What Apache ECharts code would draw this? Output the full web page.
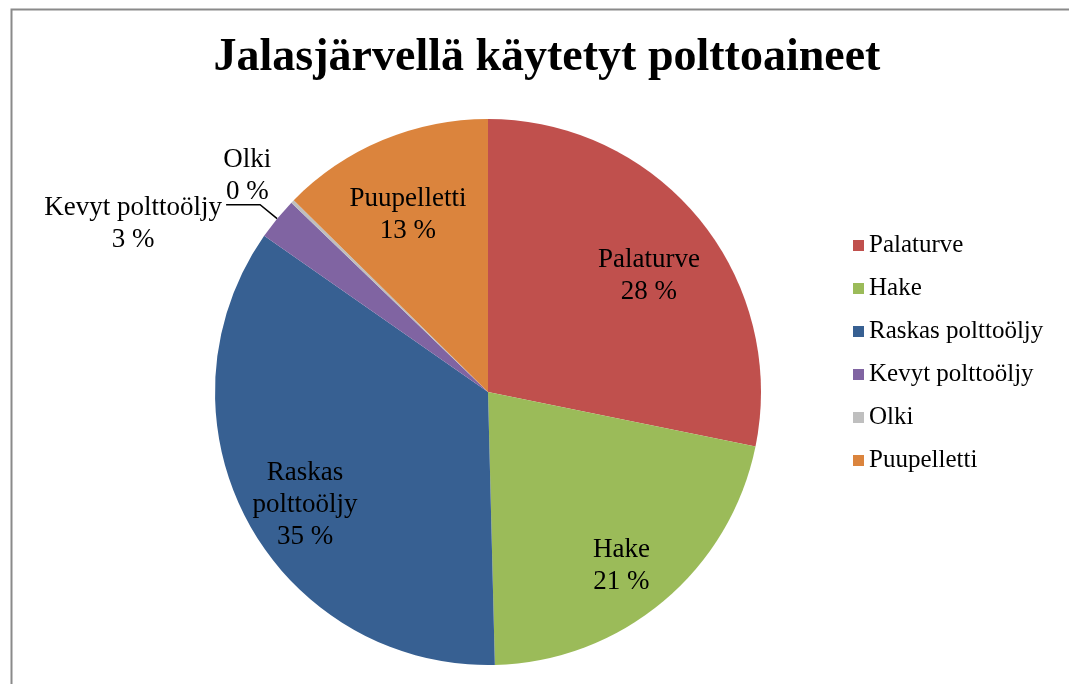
<!DOCTYPE html>
<html>
<head>
<meta charset="utf-8">
<title>Jalasjärvellä käytetyt polttoaineet</title>
<script src="https://cdn.jsdelivr.net/npm/echarts@6/dist/echarts.min.js"></script>
<style>
  html, body { margin: 0; padding: 0; background: #fff; }
  #chart { width: 1069px; height: 684px; }
</style>
</head>
<body>
<div id="chart"></div>
<script>
  // polttoaineet ja osuudet (%)
  var fuelNames = ['Palaturve', 'Hake', 'Raskas polttoöljy', 'Kevyt polttoöljy', 'Olki', 'Puupelletti']
  var fuelShares = [28.2, 21.4, 35.1, 2.5, 0.2, 12.6]
  var fuelColors = ['#C0504D', '#9BBB59', '#376092', '#8064A2', '#BFBFBF', '#DB843D']
  // pienet siivut saavat tekstin ulkopuolelle
  var outsideNames = ['Kevyt polttoöljy', 'Olki']

  var serif = '"Liberation Serif", "Times New Roman", serif'
  var R = 273

  var myChart = echarts.init(document.getElementById('chart'))

  var mainData = fuelNames.map(function (name, i) {
    var item = { name: name, value: fuelShares[i], itemStyle: { color: fuelColors[i] } }
    if (name === 'Olki') {
      item.label = { show: true, padding: [0, 0, 18, 0] }
      item.labelLine = { show: true, length: 24, length2: 0, lineStyle: { color: 'transparent' } }
    } else if (name === 'Kevyt polttoöljy') {
      item.label = { show: true, padding: [38, 0, 0, 0] }
      item.labelLine = { show: true, length: 22, length2: 34 }
    }
    return item
  })

  var labelData = fuelNames.map(function (name, i) {
    return {
      name: name,
      value: fuelShares[i],
      label: { show: outsideNames.indexOf(name) < 0 }
    }
  })

  var option = {
    animation: false,
    backgroundColor: '#ffffff',
    title: {
      text: 'Jalasjärvellä käytetyt polttoaineet',
      left: 542,
      textAlign: 'center',
      top: 30,
      textStyle: {
        fontFamily: serif,
        fontSize: 46,
        fontWeight: 'bold',
        color: '#000'
      }
    },
    legend: {
      orient: 'vertical',
      left: 848,
      top: 228,
      icon: 'rect',
      itemWidth: 11,
      itemHeight: 11,
      itemGap: 18,
      selectedMode: false,
      data: fuelNames,
      textStyle: {
        fontFamily: serif,
        fontSize: 25,
        lineHeight: 22,
        color: '#000'
      }
    },
    graphic: [{
      type: 'rect',
      left: 9,
      top: 7,
      shape: { width: 1100, height: 720 },
      style: { fill: 'none', stroke: '#8a8a8a', lineWidth: 2 },
      silent: true
    }],
    series: [{
      type: 'pie',
      center: [488, 392],
      radius: [0, R],
      startAngle: 90,
      clockwise: true,
      percentPrecision: 0,
      avoidLabelOverlap: false,
      itemStyle: { borderWidth: 0 },
      label: {
        show: false,
        position: 'outside',
        formatter: '{t|{b}}\n{t|{d} %}',
        distanceToLabelLine: 4,
        rich: {
          t: {
            align: 'center',
            fontFamily: serif,
            fontSize: 27,
            lineHeight: 32,
            color: '#000'
          }
        }
      },
      labelLine: {
        lineStyle: { color: '#000', width: 1.5 }
      },
      emphasis: { disabled: true },
      data: mainData
    }, {
      // läpinäkyvä rengas sisätekstien sijoittamiseen
      type: 'pie',
      center: [488, 407],
      radius: [R / 2, R],
      startAngle: 90,
      clockwise: true,
      percentPrecision: 0,
      silent: true,
      avoidLabelOverlap: false,
      itemStyle: { color: 'transparent' },
      label: {
        position: 'inside',
        formatter: function (p) {
          var name = p.name === 'Raskas polttoöljy' ? 'Raskas\npolttoöljy' : p.name
          return name + '\n' + p.percent + ' %'
        },
        fontFamily: serif,
        fontSize: 27,
        lineHeight: 32,
        color: '#000'
      },
      labelLine: { show: false },
      emphasis: { disabled: true },
      data: labelData
    }]
  }

  myChart.setOption(option)
  window.onresize = myChart.resize
</script>
</body>
</html>
